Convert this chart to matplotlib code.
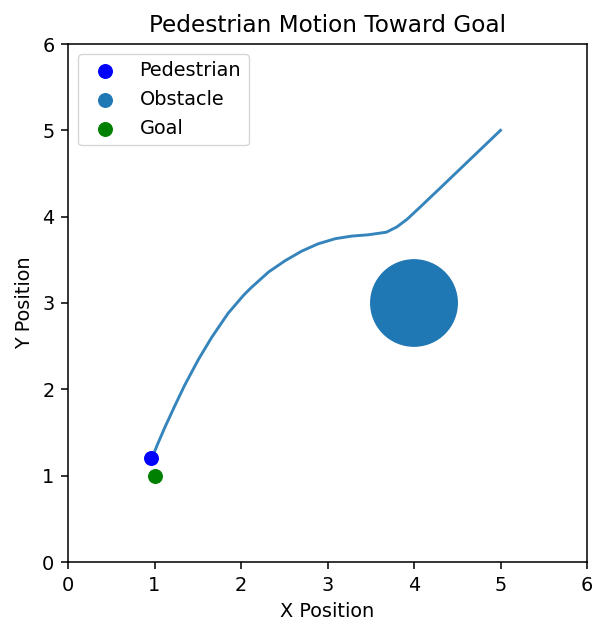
import matplotlib
matplotlib.use("Agg")
import matplotlib.pyplot as plt
from matplotlib.patches import Circle

# path of the pedestrian (start at top right, end at goal)
path_x = [5.0, 4.64, 4.28, 4.07, 3.92, 3.80, 3.68, 3.47, 3.28, 3.09, 2.89, 2.70, 2.51,
          2.32, 2.12, 2.03, 1.85, 1.66, 1.51, 1.35, 1.24, 1.12, 1.04, 0.965]
path_y = [5.0, 4.655, 4.31, 4.11, 3.97, 3.88, 3.82, 3.79, 3.775, 3.745, 3.685, 3.60, 3.49,
          3.36, 3.18, 3.09, 2.88, 2.60, 2.35, 2.05, 1.82, 1.56, 1.375, 1.19]

ped_x, ped_y = [0.96], [1.20]
obs_x, obs_y, obs_r = [4.0], [3.0], 0.5
goal_x, goal_y = [1.0], [1.0]

k = 1.39  # reference looks rendered at ~139 dpi
plt.rcParams.update({
    "font.size": 10 * k,
    "axes.titlesize": 12 * k,
    "axes.linewidth": 0.8 * k,
    "xtick.major.size": 3.5 * k,
    "ytick.major.size": 3.5 * k,
    "xtick.major.width": 0.8 * k,
    "ytick.major.width": 0.8 * k,
    "xtick.major.pad": 3.5 * k,
    "ytick.major.pad": 3.5 * k,
    "axes.titlepad": 6 * k,
    "axes.labelpad": 4 * k,
})

fig = plt.figure(figsize=(5.95, 6.25), dpi=100)
ax = fig.add_axes([68/595, 63/625, 519/595, 518/625])

ax.plot(path_x, path_y, color="C0", lw=1.5 * k, alpha=0.9)
ax.scatter(ped_x, ped_y, color="blue", s=95, label="Pedestrian", zorder=3)
# center point gives the legend entry, the circle shows the real size
ax.scatter(obs_x, obs_y, color="C0", s=95, label="Obstacle")
ax.add_patch(Circle((obs_x[0], obs_y[0]), obs_r, color="C0"))
ax.scatter(goal_x, goal_y, color="green", s=95, label="Goal", zorder=3)

ax.set_xlim(0, 6)
ax.set_ylim(0, 6)
ax.set_title("Pedestrian Motion Toward Goal")
ax.set_xlabel("X Position")
ax.set_ylabel("Y Position")
ax.legend(loc="upper left")

fig.savefig("out.png", dpi=100)
